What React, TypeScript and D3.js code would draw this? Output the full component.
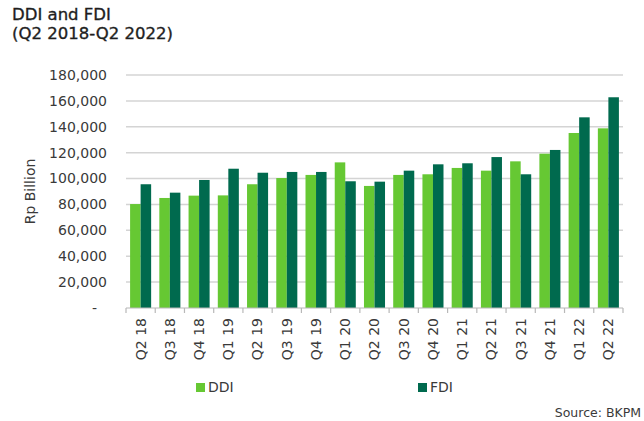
import { useRef, useEffect } from 'react'
import * as d3 from 'd3'

const quarters = ['Q2 18', 'Q3 18', 'Q4 18', 'Q1 19', 'Q2 19', 'Q3 19', 'Q4 19', 'Q1 20', 'Q2 20', 'Q3 20', 'Q4 20', 'Q1 21', 'Q2 21', 'Q3 21', 'Q4 21', 'Q1 22', 'Q2 22']
const ddi = [80300, 85000, 86800, 87000, 95600, 100400, 102800, 112500, 94300, 102800, 103300, 108200, 106100, 113300, 119200, 135200, 138800]
const fdi = [95600, 89100, 98900, 107600, 104500, 105100, 105100, 97900, 97600, 106100, 111000, 111800, 116600, 103300, 122100, 147300, 162800]
const series = ['DDI', 'FDI']
const yTicks = [0, 20000, 40000, 60000, 80000, 100000, 120000, 140000, 160000, 180000]

const COLORS: Record<string, string> = { DDI: '#66C833', FDI: '#006A4E' }
const FONT = "'DejaVu Sans', sans-serif"
const TEXT = '#3a3a3a'

export default function App() {
  const svgRef = useRef<SVGSVGElement>(null)

  useEffect(() => {
    if (!svgRef.current) return
    const width = 644
    const height = 421
    const margin = { left: 126, right: 21, top: 75, bottom: 113 }

    const svg = d3.select(svgRef.current)
    svg.selectAll('*').remove()
    svg.attr('width', width).attr('height', height)

    svg.append('rect').attr('width', width).attr('height', height).attr('fill', '#fff')

    const x = d3
      .scaleBand()
      .domain(quarters)
      .range([margin.left, width - margin.right])
      .paddingInner(0.28)
      .paddingOuter(0.14)

    const xs = d3.scaleBand().domain(series).range([0, x.bandwidth()])

    const y = d3
      .scaleLinear()
      .domain([0, 180000])
      .range([height - margin.bottom, margin.top])

    // Title
    const title = svg
      .append('g')
      .attr('font-family', FONT)
      .attr('fill', '#1e1e1e')
      .attr('stroke', '#1e1e1e')
      .attr('stroke-width', 0.35)
      .attr('font-size', 16.5)
    title.append('text').attr('x', 12).attr('y', 20).text('DDI and FDI')
    title.append('text').attr('x', 12).attr('y', 39).text('(Q2 2018-Q2 2022)')

    // Gridlines
    svg
      .append('g')
      .selectAll('line')
      .data(yTicks.filter((d) => d > 0))
      .join('line')
      .attr('x1', margin.left)
      .attr('x2', width - margin.right)
      .attr('y1', (d) => y(d))
      .attr('y2', (d) => y(d))
      .attr('stroke', '#d4d4d4')
      .attr('stroke-width', 1.5)

    // Y labels
    svg
      .append('g')
      .selectAll('text')
      .data(yTicks)
      .join('text')
      .attr('x', (d) => (d === 0 ? 97 : 107))
      .attr('y', (d) => y(d))
      .attr('dy', '0.35em')
      .attr('text-anchor', 'end')
      .attr('font-family', FONT)
      .attr('font-size', 14)
      .attr('fill', TEXT)
      .text((d) => (d === 0 ? '-' : d3.format(',')(d)))

    svg
      .append('text')
      .attr('transform', `translate(35,${y(90000)}) rotate(-90)`)
      .attr('text-anchor', 'middle')
      .attr('font-family', FONT)
      .attr('font-size', 14)
      .attr('fill', TEXT)
      .text('Rp Billion')

    // Bars
    const groups = svg
      .append('g')
      .selectAll('g')
      .data(quarters)
      .join('g')
      .attr('transform', (q) => `translate(${x(q)},0)`)

    groups
      .selectAll('rect')
      .data((q, i) => [
        { key: 'DDI', value: ddi[i] },
        { key: 'FDI', value: fdi[i] },
      ])
      .join('rect')
      .attr('x', (d) => xs(d.key)!)
      .attr('width', xs.bandwidth())
      .attr('y', (d) => y(d.value))
      .attr('height', (d) => y(0) - y(d.value))
      .attr('fill', (d) => COLORS[d.key])

    // X axis line + ticks at category boundaries
    const step = x.step()
    const axis = svg.append('g').attr('stroke', '#b8b8b8').attr('stroke-width', 1.2)
    axis
      .append('line')
      .attr('x1', margin.left)
      .attr('x2', width - margin.right)
      .attr('y1', y(0))
      .attr('y2', y(0))
    axis
      .selectAll('.tick')
      .data(d3.range(quarters.length + 1))
      .join('line')
      .attr('class', 'tick')
      .attr('x1', (i) => margin.left + i * step)
      .attr('x2', (i) => margin.left + i * step)
      .attr('y1', y(0))
      .attr('y2', y(0) + 5)

    // X labels
    svg
      .append('g')
      .selectAll('text')
      .data(quarters)
      .join('text')
      .attr('transform', (q) => `translate(${x(q)! + x.bandwidth() / 2},318) rotate(-90)`)
      .attr('dy', '0.35em')
      .attr('text-anchor', 'end')
      .attr('font-family', FONT)
      .attr('font-size', 14)
      .attr('fill', TEXT)
      .text((q) => q)

    // Legend
    const legendX: Record<string, number> = { DDI: 196, FDI: 418 }
    const legend = svg
      .append('g')
      .selectAll('g')
      .data(series)
      .join('g')
      .attr('transform', (s) => `translate(${legendX[s]},383)`)
    legend.append('rect').attr('width', 9).attr('height', 9).attr('fill', (s) => COLORS[s])
    legend
      .append('text')
      .attr('x', 12)
      .attr('y', 4.5)
      .attr('dy', '0.35em')
      .attr('font-family', FONT)
      .attr('font-size', 14)
      .attr('fill', TEXT)
      .text((s) => s)

    svg
      .append('text')
      .attr('x', 641)
      .attr('y', 417)
      .attr('text-anchor', 'end')
      .attr('font-family', FONT)
      .attr('font-size', 12.5)
      .attr('fill', TEXT)
      .text('Source: BKPM')
  }, [])

  return <svg ref={svgRef} style={{ position: 'absolute', left: 0, top: 0 }} />
}
